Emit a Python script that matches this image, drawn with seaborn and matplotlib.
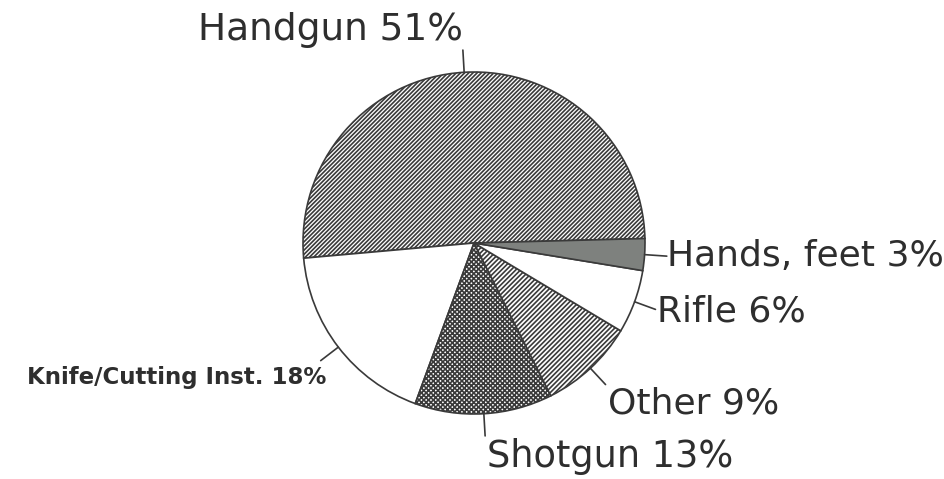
import numpy as np
import seaborn as sns
import matplotlib
matplotlib.use('Agg')
import matplotlib.pyplot as plt

# data, counterclockwise from the right edge
labels = ['Handgun', 'Knife/Cutting Inst.', 'Shotgun', 'Other', 'Rifle', 'Hands, feet']
shares = [51, 18, 13, 9, 6, 3]

sns.set_style('white')
plt.rcParams['font.family'] = ['DejaVu Sans']
plt.rcParams['hatch.linewidth'] = 1.2

ink = '#3a3a3a'
fills = ['white', 'white', 'white', 'white', 'white', '#7e817e']
hatches = ['////////', None, 'xxxxxxx', '///////', None, None]

fig = plt.figure(figsize=(9.45, 4.79), dpi=100)
ax = fig.add_axes([0, 0, 1, 1])

cx, cy, r = 474, 479 - 243, 171
wedges, _ = ax.pie(shares, startangle=1.5, counterclock=True, center=(cx, cy),
                   radius=r, colors=fills, frame=True,
                   wedgeprops=dict(edgecolor=ink, linewidth=1.2))
for w, h in zip(wedges, hatches):
    if h:
        w.set_hatch(h)
ax.set_xlim(0, 945)
ax.set_ylim(0, 479)
ax.set_aspect('equal')
ax.axis('off')

# label placement: (ha, va, dx, dy, size, weight)
place = {
    'Handgun': ('right', 'bottom', 0, 2, 27, 'normal'),
    'Knife/Cutting Inst.': ('right', 'top', 6, -5, 16.5, 'bold'),
    'Shotgun': ('left', 'top', 2, -2, 26.5, 'normal'),
    'Other': ('left', 'top', 2, -2, 26, 'normal'),
    'Rifle': ('left', 'center', 2, -2, 26, 'normal'),
    'Hands, feet': ('left', 'center', 0, 0, 26, 'normal'),
}

for w, lab, s in zip(wedges, labels, shares):
    theta = np.deg2rad((w.theta1 + w.theta2) / 2)
    x0, y0 = cx + r * np.cos(theta), cy + r * np.sin(theta)
    x1, y1 = cx + 1.13 * r * np.cos(theta), cy + 1.13 * r * np.sin(theta)
    ax.plot([x0, x1], [y0, y1], color=ink, lw=1.2)
    ha, va, dx, dy, size, weight = place[lab]
    ax.text(x1 + dx, y1 + dy, f'{lab} {s}%', ha=ha, va=va, fontsize=size,
            fontweight=weight, color='#2e2e2e')

fig.savefig('out.png', dpi=100)
